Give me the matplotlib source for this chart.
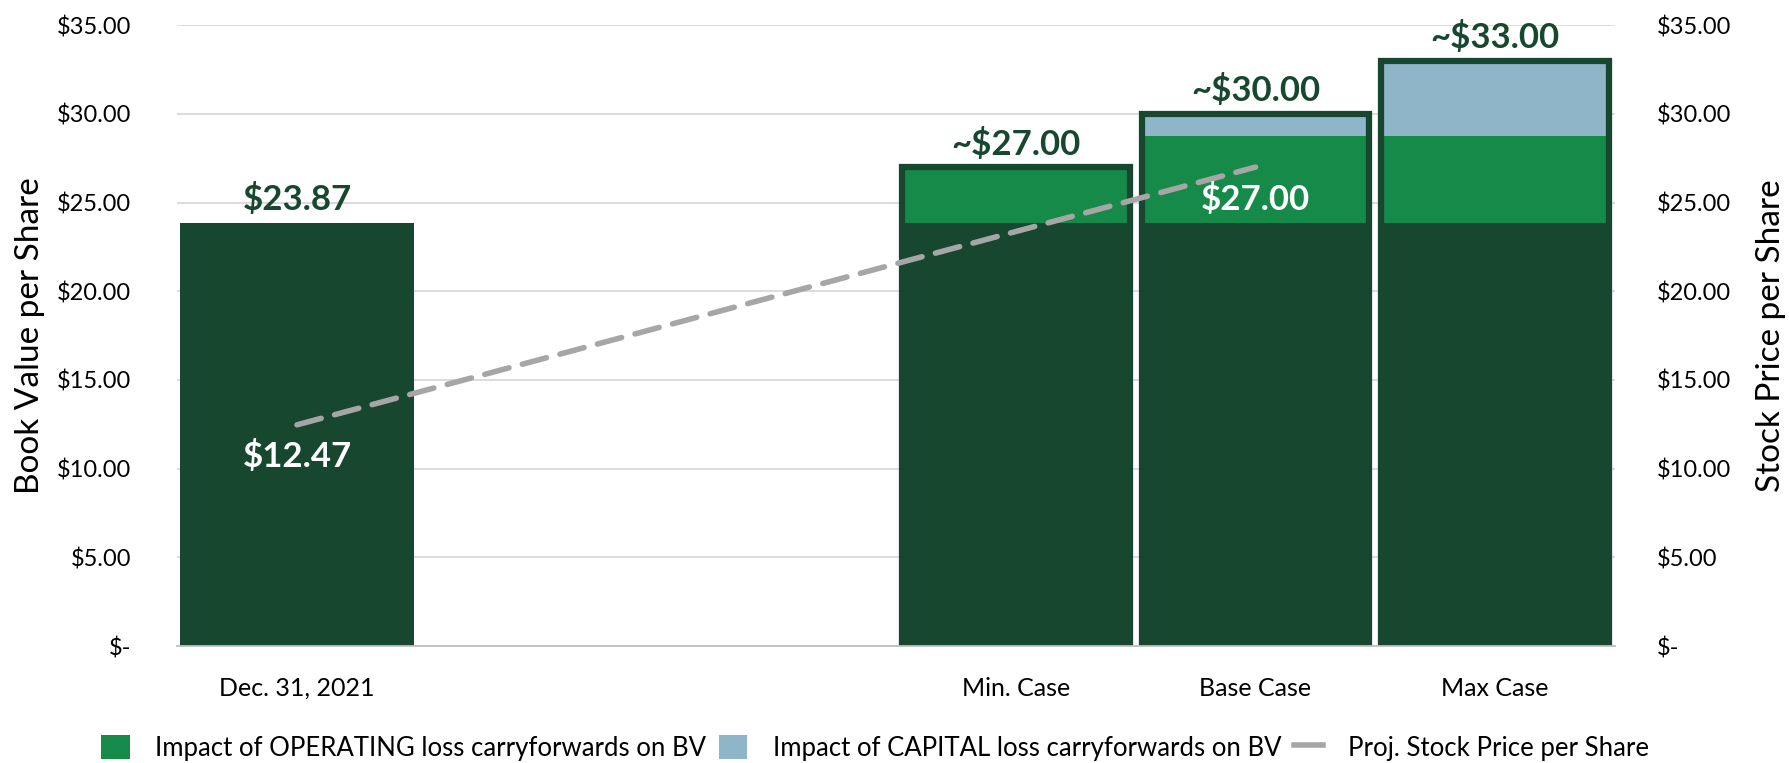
import matplotlib.pyplot as plt
import numpy as np
from matplotlib.patches import Patch
from matplotlib.lines import Line2D
from matplotlib.ticker import FuncFormatter, MultipleLocator

plt.rcParams["font.family"] = ["Lato", "DejaVu Sans"]

categories = ["Dec. 31, 2021", "", "", "Min. Case", "Base Case", "Max Case"]
book_value = [23.87, np.nan, np.nan, 23.87, 23.87, 23.87]
operating_impact = [0.0, np.nan, np.nan, 3.13, 4.90, 4.90]
capital_impact = [0.0, np.nan, np.nan, 0.0, 1.23, 4.23]
stock_price = [12.47, np.nan, np.nan, np.nan, 27.00, np.nan]
top_labels = ["$23.87", "", "", "~$27.00", "~$30.00", "~$33.00"]

dark = "#17472F"
green = "#168A48"
blue = "#8EB6C8"
gray = "#A6A6A6"

x = np.arange(len(categories))
bv = np.nan_to_num(book_value)
op = np.nan_to_num(operating_impact)
cap = np.nan_to_num(capital_impact)
totals = bv + op + cap
is_case = np.array([o > 0 for o in op])

fig = plt.figure(figsize=(17.9, 7.63), dpi=100)
ax = fig.add_axes([0.099, 0.1533, 0.8032, 0.8137])

# plain historic bar and the stacked scenario bars
ax.bar(x[~is_case], bv[~is_case], width=0.975, color=dark, zorder=2)
ax.bar(x[is_case], bv[is_case], width=0.95, color=dark, zorder=2)
ax.bar(x[is_case], op[is_case], bottom=bv[is_case], width=0.95, color=green, zorder=2)
ax.bar(x[is_case], cap[is_case], bottom=(bv + op)[is_case], width=0.95, color=blue, zorder=2)
ax.bar(x[is_case], totals[is_case], width=0.95, fill=False, edgecolor=dark,
       linewidth=4.5, zorder=3)

sp = np.array(stock_price)
ok = ~np.isnan(sp)
ax.plot(x[ok], sp[ok], color=gray, linewidth=4, dashes=(4.5, 2.5),
        dash_capstyle="round", zorder=4)

for xi, t, lab in zip(x, totals, top_labels):
    if lab:
        ax.text(xi, t + 1.3, lab, ha="center", va="center", fontsize=25,
                fontweight="bold", color=dark, zorder=5)
for xi, v in zip(x[ok], sp[ok]):
    ax.text(xi, v - 1.8, f"${v:.2f}", ha="center", va="center", fontsize=25,
            fontweight="bold", color="white", zorder=5)

ax.set_xlim(-0.5, len(categories) - 0.5)
ax.set_ylim(0, 35)
ax.yaxis.set_major_locator(MultipleLocator(5))
money = FuncFormatter(lambda v, p: "$-" if v == 0 else f"${v:.2f}")
ax.yaxis.set_major_formatter(money)
ax.set_xticks(x)
ax.set_xticklabels(categories)
ax.grid(axis="y", color="#D9D9D9", linewidth=1.3, zorder=0)
ax.set_axisbelow(True)
for s in ["top", "left", "right"]:
    ax.spines[s].set_visible(False)
ax.spines["bottom"].set_color("#BFBFBF")
ax.spines["bottom"].set_linewidth(1.3)
ax.spines["bottom"].set_zorder(6)
ax.tick_params(axis="y", length=0, pad=33, labelsize=17)
ax.tick_params(axis="x", length=0, pad=22, labelsize=18)
ax.set_ylabel("Book Value per Share", fontsize=24)
ax.yaxis.set_label_coords(-0.092, 0.5)

ax2 = ax.twinx()
ax2.set_ylim(0, 35)
ax2.yaxis.set_major_locator(MultipleLocator(5))
ax2.yaxis.set_major_formatter(money)
for s in ["top", "left", "right", "bottom"]:
    ax2.spines[s].set_visible(False)
ax2.tick_params(axis="y", length=0, pad=30, labelsize=17)
ax2.set_ylabel("Stock Price per Share", fontsize=24)
ax2.yaxis.set_label_coords(1.098, 0.5)

handles = [
    Patch(facecolor=green, label="Impact of OPERATING loss carryforwards on BV"),
    Patch(facecolor=blue, label="Impact of CAPITAL loss carryforwards on BV"),
    Line2D([0], [0], color=gray, linewidth=4, label="Proj. Stock Price per Share"),
]
fig.legend(handles=handles, loc="center", bbox_to_anchor=(0.489, 0.02), ncol=3,
           frameon=False, fontsize=18.5, handlelength=1.1, handleheight=1.1,
           handletextpad=1.0, columnspacing=0.5)

fig.savefig("out.png", dpi=100)
